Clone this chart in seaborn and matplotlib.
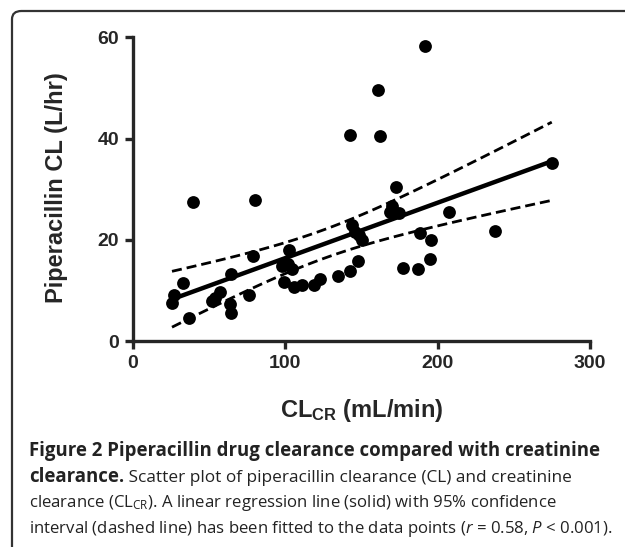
import numpy as np
import pandas as pd
import matplotlib
matplotlib.use("Agg")
import matplotlib.pyplot as plt
import seaborn as sns
from matplotlib.patches import FancyBboxPatch

# data: creatinine clearance vs piperacillin clearance
cl_cr = [26.6, 25.6, 32.7, 36.5, 39.4, 51.8, 57.3, 54.0, 64.3, 63.8,
         64.3, 75.9, 78.6, 80.2, 98.8, 97.8, 102.1, 101.5, 104.3, 105.4,
         110.9, 118.5, 122.9, 134.9, 142.6, 148.0, 142.6, 160.8, 162.3, 191.8,
         143.7, 145.9, 150.3, 148.5, 170.0, 174.3, 168.5, 172.8, 177.1, 187.0,
         188.1, 195.5, 195.1, 207.5, 237.7, 274.9]
cl_pip = [9.1, 7.5, 11.4, 4.5, 27.5, 7.9, 9.7, 8.5, 13.2, 7.4,
          5.5, 9.1, 16.7, 27.8, 11.7, 14.8, 17.9, 15.3, 14.3, 10.7,
          11.0, 11.0, 12.2, 12.8, 13.8, 15.8, 40.7, 49.5, 40.5, 58.2,
          22.9, 21.5, 19.9, 21.0, 26.7, 25.2, 25.5, 30.4, 14.4, 14.3,
          21.4, 19.9, 16.2, 25.4, 21.7, 35.2]
x_ticks = [0, 100, 200, 300]
y_ticks = [0, 20, 40, 60]

df = pd.DataFrame({"CLcr": cl_cr, "CL": cl_pip})

sns.set_theme(style="ticks")
plt.rcParams["font.family"] = ["Liberation Sans", "DejaVu Sans"]
plt.rcParams["mathtext.fontset"] = "custom"
plt.rcParams["mathtext.rm"] = "Open Sans"
plt.rcParams["mathtext.it"] = "Open Sans:italic"
plt.rcParams["mathtext.bf"] = "Liberation Sans:bold"

W, H = 625, 547
fig = plt.figure(figsize=(W / 100, H / 100), dpi=100)


def fx(px):
    return px / W


def fy(py):
    return 1 - py / H


ax = fig.add_axes([fx(133), fy(341), fx(590) - fx(133), fy(37.3) - fy(341)])

# scatter + regression line
sns.scatterplot(data=df, x="CLcr", y="CL", color="black", s=85, linewidth=0,
                ax=ax, clip_on=False, zorder=3)
sns.regplot(data=df, x="CLcr", y="CL", scatter=False, ci=None, color="black",
            line_kws={"lw": 3.2}, ax=ax)

# 95% confidence interval of the fitted line (dashed)
x = df["CLcr"].to_numpy()
y = df["CL"].to_numpy()
n = len(x)
b, a = np.polyfit(x, y, 1)
resid = y - (a + b * x)
s_err = np.sqrt(np.sum(resid ** 2) / (n - 2))
grid = np.linspace(x.min(), x.max(), 100)
t = 2.015
se = s_err * np.sqrt(1 / n + (grid - x.mean()) ** 2 / np.sum((x - x.mean()) ** 2))
fit = a + b * grid
ci = pd.DataFrame({"x": grid, "lo": fit - t * se, "hi": fit + t * se})
for col in ["lo", "hi"]:
    sns.lineplot(data=ci, x="x", y=col, color="black", lw=2.0,
                 linestyle=(0, (3.6, 1.8)), ax=ax)

ax.set_xlim(0, 300)
ax.set_ylim(0, 60)
ax.set_xticks(x_ticks)
ax.set_yticks(y_ticks)
sns.despine(ax=ax)
for sp in ["left", "bottom"]:
    ax.spines[sp].set_linewidth(2.4)
ax.tick_params(width=2.4, length=6, direction="out", labelsize=14, pad=4)
for lab in ax.get_xticklabels() + ax.get_yticklabels():
    lab.set_fontweight("bold")
ax.set_xlabel("")
ax.set_ylabel("")

fig.text(fx(57), fy(188), "Piperacillin CL (L/hr)", rotation=90, fontsize=17,
         fontweight="bold", ha="center", va="center")
fig.text(fx(362), fy(410), r"$\mathbf{CL_{CR}}$ (mL/min)", fontsize=17,
         fontweight="bold", ha="center", va="center")

# frame around the figure
box = FancyBboxPatch((fx(12), fy(560)), fx(640) - fx(12), fy(11) - fy(560),
                     boxstyle="round,pad=0,rounding_size=0.015",
                     transform=fig.transFigure, fill=False,
                     edgecolor="#333333", lw=1.6, clip_on=False)
fig.patches.append(box)

# caption, built piece by piece
cap_font = ["Open Sans", "DejaVu Sans"]
renderer = fig.canvas.get_renderer()


def caption_line(py, pieces):
    xpos = fx(29)
    for txt, weight, size in pieces:
        t_ = fig.text(xpos, fy(py), txt, fontsize=size, family=cap_font,
                      fontweight=weight, color="#222222", va="baseline", ha="left")
        bb = t_.get_window_extent(renderer=renderer)
        xpos += bb.width / W


caption_line(456, [("Figure 2 Piperacillin drug clearance compared with creatinine", "bold", 13.4)])
caption_line(481.7, [("clearance.", "bold", 13.4),
                     (" Scatter plot of piperacillin clearance (CL) and creatinine", "normal", 12.45)])
caption_line(507.4, [(r"clearance (CL$_{\mathrm{CR}}$). A linear regression line (solid) with 95% confidence", "normal", 12.1)])
caption_line(533, [(r"interval (dashed line) has been fitted to the data points ($r$ = 0.58, $P$ < 0.001).", "normal", 12.1)])

fig.savefig("out.png", dpi=100)
